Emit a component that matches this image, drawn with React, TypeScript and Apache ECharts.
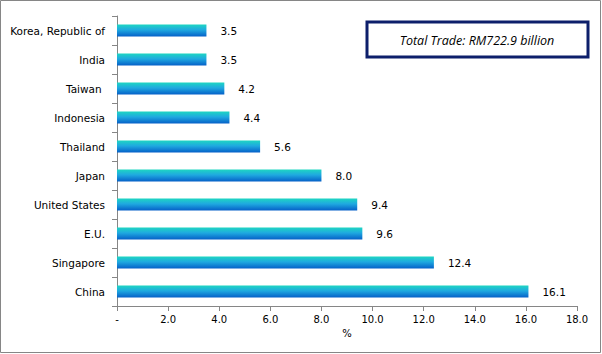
import React, { useEffect, useRef } from "react";
import * as echarts from "echarts";

const categories = ["China", "Singapore", "E.U.", "United States", "Japan", "Thailand", "Indonesia", "Taiwan ", "India", "Korea, Republic of"];
const values = [16.1, 12.4, 9.6, 9.4, 8.0, 5.6, 4.4, 4.2, 3.5, 3.5];
const xTicks = [0, 2, 4, 6, 8, 10, 12, 14, 16, 18];
const boxText = "Total Trade: RM722.9 billion";

export default function App() {
  const ref = useRef<HTMLDivElement>(null);
  useEffect(() => {
    const chart = echarts.init(ref.current!, null, { renderer: "svg" });
    const font = "DejaVu Sans, Verdana, sans-serif";
    chart.setOption({
      animation: false,
      backgroundColor: "#ffffff",
      grid: { left: 117, right: 25, top: 16, bottom: 48, containLabel: false },
      xAxis: {
        type: "value",
        min: 0,
        max: 18,
        interval: 2,
        name: "%",
        nameLocation: "middle",
        nameGap: 20,
        nameTextStyle: { fontFamily: font, fontSize: 10, color: "#000" },
        axisLine: { show: true, lineStyle: { color: "#868686" } },
        axisTick: { show: true, length: 5, lineStyle: { color: "#868686" } },
        splitLine: { show: false },
        axisLabel: {
          fontFamily: font,
          fontSize: 10,
          color: "#000",
          margin: 8,
          formatter: (v: number) => (v === 0 ? "-" : v.toFixed(1)),
        },
      },
      yAxis: {
        type: "category",
        data: categories,
        axisLine: { show: true, lineStyle: { color: "#868686" } },
        axisTick: { show: true, length: 5, lineStyle: { color: "#868686" } },
        axisLabel: { fontFamily: font, fontSize: 10.5, color: "#000", margin: 12 },
      },
      series: [
        {
          type: "bar",
          data: values,
          barWidth: 12,
          itemStyle: {
            color: new echarts.graphic.LinearGradient(0, 0, 0, 1, [
              { offset: 0, color: "#1ed6c2" },
              { offset: 0.45, color: "#1fa9e0" },
              { offset: 1, color: "#0560c8" },
            ]),
          },
          label: {
            show: true,
            position: "right",
            distance: 14,
            fontFamily: font,
            fontSize: 10.5,
            color: "#000",
            formatter: (p: any) => Number(p.value).toFixed(1),
          },
        },
      ],
      graphic: [
        {
          type: "rect",
          shape: { x: 0.5, y: 0.5, width: 600, height: 352 },
          style: { fill: "none", stroke: "#868686", lineWidth: 1 },
          silent: true,
        },
        {
          type: "rect",
          shape: { x: 367, y: 22, width: 221, height: 35 },
          style: { fill: "#ffffff", stroke: "#0d1f6b", lineWidth: 3 },
        },
        {
          type: "text",
          x: 477,
          y: 40,
          style: {
            text: boxText,
            fontFamily: "Open Sans, sans-serif",
            fontStyle: "italic",
            fontSize: 12.5,
            fill: "#000",
            align: "center",
            verticalAlign: "middle",
          },
        },
      ],
    });
    return () => chart.dispose();
  }, []);
  return (
    <div
      ref={ref}
      style={{ position: "fixed", left: 0, top: 0, width: 602, height: 354 }}
    />
  );
}
